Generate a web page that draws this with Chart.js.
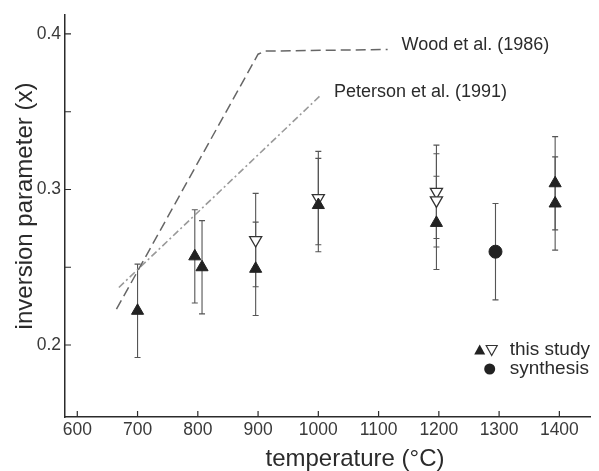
<!DOCTYPE html>
<html>
<head>
<meta charset="utf-8">
<script src="https://cdn.jsdelivr.net/npm/chart.js@4/dist/chart.umd.min.js"></script>
<style>
  html, body { margin: 0; padding: 0; background: #fff; }
  #wrap { position: relative; width: 599px; height: 471px; }
</style>
</head>
<body>
<div id="wrap"><canvas id="chart"></canvas></div>
<script>
// this study, filled triangles
const filledTemps = [700, 795, 807, 896, 1000, 1196, 1393, 1393];
const filledValues = [0.222, 0.257, 0.250, 0.249, 0.290, 0.2785, 0.304, 0.291];
const filledErrors = [0.03, 0.03, 0.03, 0.03, 0.03, 0.03, 0.03, 0.03];

// this study, open triangles
const openTemps = [896, 1000, 1196, 1196];
const openValues = [0.2675, 0.2945, 0.2985, 0.293];
const openErrors = [0.03, 0.03, 0.03, 0.03];

// synthesis
const synthTemps = [1294];
const synthValues = [0.260];
const synthErrors = [0.031];

// literature curves
const woodTemps = [665, 900, 912, 1115];
const woodValues = [0.223, 0.387, 0.389, 0.390];
const petersonTemps = [669, 1005];
const petersonValues = [0.237, 0.361];

const xTicks = [600, 700, 800, 900, 1000, 1100, 1200, 1300, 1400];
const yTicks = [0.2, 0.25, 0.3, 0.35, 0.4];
const yTickLabels = ['0.2', '', '0.3', '', '0.4'];

const FONT = "'Liberation Sans', Arial, sans-serif";
const INK = '#2b2b2b';

function toPoints(xs, ys) {
  return xs.map((x, i) => ({ x, y: ys[i] }));
}

const curveLabels = [
  { text: 'Wood et al. (1986)', x: 1138, y: 0.393 },
  { text: 'Peterson et al. (1991)', x: 1026, y: 0.3627 }
];

const extrasPlugin = {
  id: 'extras',
  beforeDatasetsDraw(chart) {
    const { ctx, scales: { x, y } } = chart;
    ctx.save();
    ctx.strokeStyle = '#555';
    ctx.lineWidth = 1.1;
    chart.data.datasets.forEach((ds) => {
      if (!ds.errors) {
        return;
      }
      ds.data.forEach((p, i) => {
        const px = x.getPixelForValue(p.x);
        const top = y.getPixelForValue(p.y + ds.errors[i]);
        const bottom = y.getPixelForValue(p.y - ds.errors[i]);
        ctx.beginPath();
        ctx.moveTo(px, top);
        ctx.lineTo(px, bottom);
        ctx.moveTo(px - 3, top);
        ctx.lineTo(px + 3, top);
        ctx.moveTo(px - 3, bottom);
        ctx.lineTo(px + 3, bottom);
        ctx.stroke();
      });
    });
    ctx.restore();
  },
  afterDraw(chart) {
    const { ctx, chartArea: area, scales: { x, y } } = chart;
    ctx.save();

    // inward tick marks
    ctx.strokeStyle = INK;
    ctx.lineWidth = 1.2;
    ctx.beginPath();
    xTicks.forEach((t) => {
      const px = x.getPixelForValue(t);
      ctx.moveTo(px, area.bottom);
      ctx.lineTo(px, area.bottom - 6);
    });
    yTicks.forEach((t) => {
      const py = y.getPixelForValue(t);
      ctx.moveTo(area.left, py);
      ctx.lineTo(area.left + 6, py);
    });
    ctx.stroke();

    // curve labels
    ctx.fillStyle = INK;
    ctx.font = `18px ${FONT}`;
    ctx.textAlign = 'left';
    ctx.textBaseline = 'middle';
    curveLabels.forEach((l) => {
      ctx.fillText(l.text, x.getPixelForValue(l.x), y.getPixelForValue(l.y));
    });

    // legend
    const lx = area.right - 81;
    const ly1 = area.bottom - 67;
    const ly2 = area.bottom - 48;
    ctx.font = `19px ${FONT}`;
    ctx.fillText('this study', lx, ly1);
    ctx.fillText('synthesis', lx, ly2);
    ctx.fillStyle = '#222';
    ctx.beginPath();
    ctx.moveTo(lx - 30, ly1 - 5.5);
    ctx.lineTo(lx - 24.5, ly1 + 4.5);
    ctx.lineTo(lx - 35.5, ly1 + 4.5);
    ctx.closePath();
    ctx.fill();
    ctx.strokeStyle = '#333';
    ctx.lineWidth = 1.2;
    ctx.beginPath();
    ctx.moveTo(lx - 18, ly1 + 5.5);
    ctx.lineTo(lx - 12.5, ly1 - 4.5);
    ctx.lineTo(lx - 23.5, ly1 - 4.5);
    ctx.closePath();
    ctx.stroke();
    ctx.beginPath();
    ctx.arc(lx - 20, ly2, 5.5, 0, Math.PI * 2);
    ctx.fill();

    // axis titles
    ctx.fillStyle = INK;
    ctx.font = `24px ${FONT}`;
    ctx.textAlign = 'center';
    ctx.fillText('temperature (°C)', 355, 459);
    ctx.translate(25, 206);
    ctx.rotate(-Math.PI / 2);
    ctx.fillText('inversion parameter (x)', 0, 0);

    ctx.restore();
  }
};

new Chart(document.getElementById('chart'), {
  type: 'scatter',
  data: {
    datasets: [
      {
        label: 'this study',
        data: toPoints(filledTemps, filledValues),
        errors: filledErrors,
        pointStyle: 'triangle',
        pointRadius: 7,
        backgroundColor: '#222',
        borderColor: '#222',
        borderWidth: 1
      },
      {
        label: 'this study (open)',
        data: toPoints(openTemps, openValues),
        errors: openErrors,
        pointStyle: 'triangle',
        rotation: 180,
        pointRadius: 7,
        backgroundColor: '#fff',
        borderColor: '#333',
        borderWidth: 1.3
      },
      {
        label: 'synthesis',
        data: toPoints(synthTemps, synthValues),
        errors: synthErrors,
        pointStyle: 'circle',
        pointRadius: 6.5,
        backgroundColor: '#222',
        borderColor: '#222',
        borderWidth: 1
      },
      {
        label: 'Wood et al. (1986)',
        data: toPoints(woodTemps, woodValues),
        showLine: true,
        pointRadius: 0,
        borderColor: '#666',
        borderWidth: 1.5,
        borderDash: [10, 5],
        tension: 0
      },
      {
        label: 'Peterson et al. (1991)',
        data: toPoints(petersonTemps, petersonValues),
        showLine: true,
        pointRadius: 0,
        borderColor: '#999',
        borderWidth: 1.6,
        borderDash: [7, 3, 2, 3],
        tension: 0
      }
    ]
  },
  options: {
    responsive: true,
    maintainAspectRatio: false,
    animation: false,
    layout: { padding: { top: 15, right: 0, left: 0, bottom: 0 } },
    plugins: {
      legend: { display: false },
      tooltip: { enabled: false }
    },
    scales: {
      x: {
        type: 'linear',
        min: 579.6,
        max: 1452,
        afterBuildTicks(scale) {
          scale.ticks = xTicks.map((v) => ({ value: v }));
        },
        afterFit(scale) {
          scale.height = 54;
        },
        ticks: {
          padding: 3,
          color: '#3a3a3a',
          font: { family: FONT, size: 17.5 },
          maxRotation: 0,
          callback: (value) => String(value)
        },
        grid: { display: false, drawTicks: false },
        border: { display: true, color: INK, width: 1.5 }
      },
      y: {
        type: 'linear',
        min: 0.1537,
        max: 0.4122,
        afterBuildTicks(scale) {
          scale.ticks = yTicks.map((v) => ({ value: v }));
        },
        afterFit(scale) {
          scale.width = 65;
        },
        ticks: {
          padding: 4,
          color: '#3a3a3a',
          font: { family: FONT, size: 17.5 },
          callback: (value, index) => yTickLabels[index]
        },
        grid: { display: false, drawTicks: false },
        border: { display: true, color: INK, width: 1.5 }
      }
    }
  },
  plugins: [extrasPlugin]
});
</script>
</body>
</html>
